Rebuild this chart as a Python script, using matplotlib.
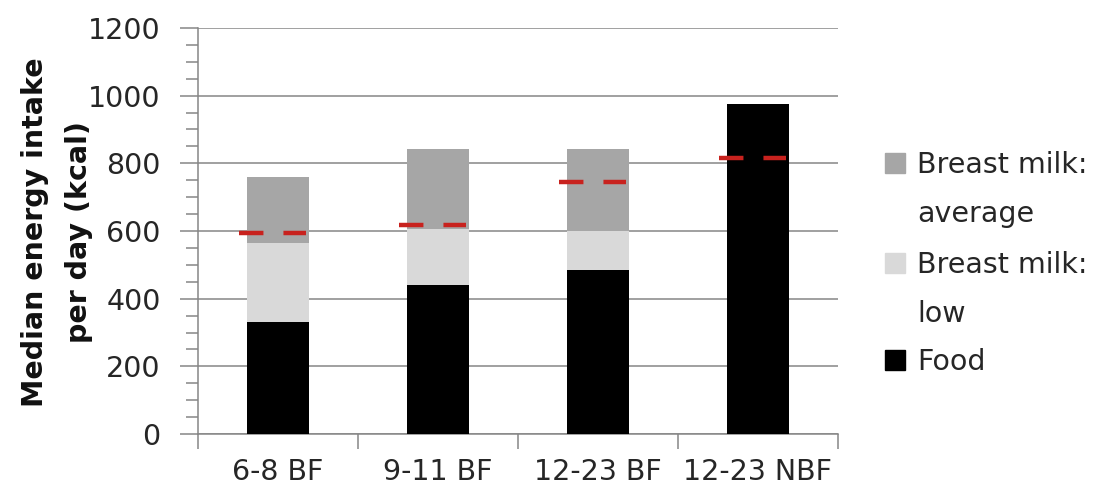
import matplotlib.pyplot as plt
from matplotlib.ticker import MultipleLocator
from matplotlib.patches import Rectangle

categories = ["6-8 BF", "9-11 BF", "12-23 BF", "12-23 NBF"]
food = [332, 441, 486, 975]
bm_low_top = [566, 607, 601, 975]      # cumulative top of "Breast milk: low"
bm_avg_top = [761, 841, 841, 975]      # cumulative top of "Breast milk: average"
requirement = [595, 619, 744, 815]     # dashed reference level per group

legend_labels = ["Breast milk:\naverage", "Breast milk:\nlow", "Food"]

bm_low = [t - f for t, f in zip(bm_low_top, food)]
bm_avg = [t - l for t, l in zip(bm_avg_top, bm_low_top)]

c_avg = "#a6a6a6"
c_low = "#d9d9d9"
c_food = "#000000"
c_req = "#c8221e"
c_axis = "#868686"
c_text = "#262626"

plt.rcParams["font.family"] = ["DejaVu Sans"]

W, H = 1107, 499
fig = plt.figure(figsize=(W / 100, H / 100), dpi=100)
ax = fig.add_axes([198 / W, 1 - 434 / H, 640 / W, 406 / H])

x = list(range(len(categories)))
w = 0.39
ax.bar(x, food, width=w, color=c_food, zorder=3)
ax.bar(x, bm_low, width=w, bottom=food, color=c_low, zorder=3)
ax.bar(x, bm_avg, width=w, bottom=bm_low_top, color=c_avg, zorder=3)

for xi, r in zip(x, requirement):
    ax.hlines(r, xi - 0.245, xi + 0.175, colors=c_req, linewidth=3.2,
              linestyles=(0, (5.5, 4.5)), zorder=4)

ax.set_xlim(-0.5, len(categories) - 0.5)
ax.set_ylim(0, 1200)
ax.yaxis.set_major_locator(MultipleLocator(200))
ax.yaxis.set_minor_locator(MultipleLocator(50))
ax.grid(axis="y", which="major", color=c_axis, linewidth=1.1, zorder=0)

for s in ["top", "right"]:
    ax.spines[s].set_visible(False)
for s in ["left", "bottom"]:
    ax.spines[s].set_color(c_axis)
    ax.spines[s].set_linewidth(1.1)

ax.set_xticks([i - 0.5 for i in range(len(categories) + 1)])
ax.set_xticks(x, minor=True)
ax.set_xticklabels([])
ax.set_xticklabels(categories, minor=True)
ax.tick_params(axis="x", which="major", length=11, width=1.1, color=c_axis)
ax.tick_params(axis="x", which="minor", length=0, pad=17, labelsize=20.5,
               labelcolor=c_text)
ax.tick_params(axis="y", which="major", length=13, width=1.1, color=c_axis,
               labelsize=20.5, labelcolor=c_text, pad=14)
ax.tick_params(axis="y", which="minor", length=9, width=1.1, color=c_axis)

fig.text(57 / W, 1 - 232 / H, "Median energy intake\nper day (kcal)",
         rotation=90, ha="center", va="center", multialignment="center",
         fontsize=20.5, fontweight="bold", color="#111111", linespacing=1.75)

# Legend drawn line by line so the swatch sits on the first text line
colors = [c_avg, c_low, c_food]
first_baselines = [173, 273, 370]
line_step = 49
sq = 20
for lab, col, base in zip(legend_labels, colors, first_baselines):
    fig.patches.append(Rectangle((885 / W, 1 - base / H), sq / W, sq / H,
                                 transform=fig.transFigure, color=col))
    for k, line in enumerate(lab.split("\n")):
        fig.text(917 / W, 1 - (base + k * line_step) / H, line,
                 ha="left", va="baseline", fontsize=20.5, color=c_text)

fig.savefig("out.png", dpi=100)
